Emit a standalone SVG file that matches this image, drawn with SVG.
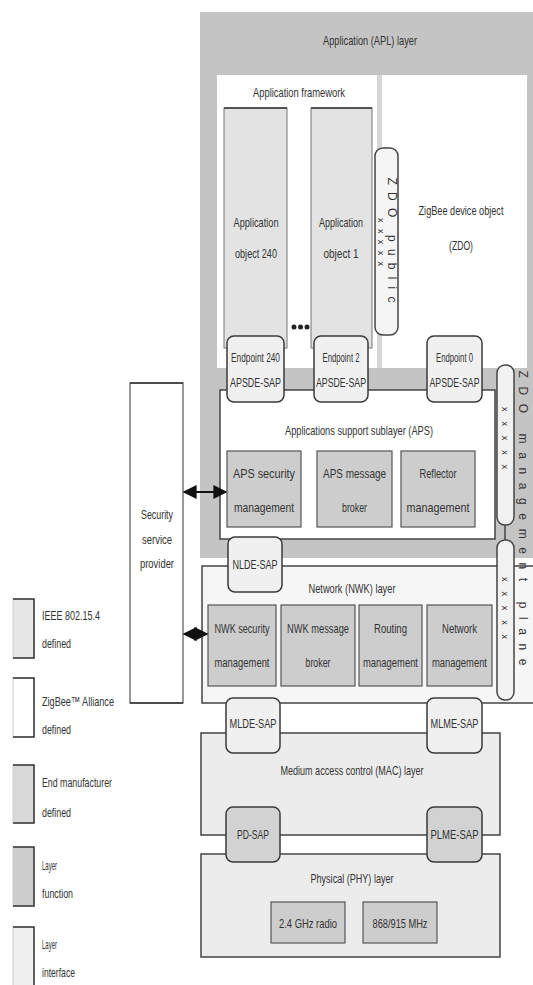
<svg xmlns="http://www.w3.org/2000/svg" width="533" height="985" viewBox="0 0 533 985">
<style>
.t{font-family:"Liberation Sans",Arial,sans-serif;font-size:13px;fill:#333;text-anchor:middle}
.s{font-size:12px}
.l{text-anchor:start}
.sap{fill:#f0f0f0;stroke:#3a3a3a;stroke-width:1.5}
.sapd{fill:#d2d2d2;stroke:#3a3a3a;stroke-width:1.5}
.fn{fill:#cdcdcd;stroke:#555;stroke-width:1.2}
.obj{fill:#e3e3e3;stroke:#777;stroke-width:1}
.ln{stroke:#333;stroke-width:1.5;fill:none}
</style>
<defs>
<marker id="ah" viewBox="0 0 10 10" refX="9" refY="5" markerWidth="7" markerHeight="7" orient="auto-start-reverse"><path d="M0,0 L10,5 L0,10 z" fill="#111"/></marker>
</defs>
<rect width="533" height="985" fill="#fff"/>

<g id="apl">
<rect x="200" y="12" width="333" height="546" fill="#c4c4c4"/>
<text class="t" x="370" y="45" textLength="94" lengthAdjust="spacingAndGlyphs">Application (APL) layer</text>
</g>
<g id="app-framework">
<rect x="217" y="75" width="160" height="293" fill="#fff"/>
<rect x="377" y="75" width="5" height="293" fill="#d6d6d6"/>
<text class="t" x="299" y="97" textLength="92" lengthAdjust="spacingAndGlyphs">Application framework</text>
</g>
<g id="zdo">
<rect x="382" y="75" width="145" height="293" fill="#fff"/>
<text class="t" style="font-size:12px" x="461" y="215" textLength="85" lengthAdjust="spacingAndGlyphs">ZigBee device object</text>
<text class="t" x="461" y="250" textLength="24" lengthAdjust="spacingAndGlyphs">(ZDO)</text>
</g>
<g id="app-object-240">
<rect class="obj" x="224" y="108" width="63" height="240"/>
<line class="ln" x1="224" y1="108" x2="287" y2="108"/>
<text class="t" x="256" y="227" textLength="45" lengthAdjust="spacingAndGlyphs">Application</text>
<text class="t" x="256" y="258" textLength="42" lengthAdjust="spacingAndGlyphs">object 240</text>
</g>
<g id="app-object-1">
<rect class="obj" x="311" y="108" width="61" height="240"/>
<line class="ln" x1="311" y1="108" x2="372" y2="108"/>
<text class="t" x="341" y="227" textLength="44" lengthAdjust="spacingAndGlyphs">Application</text>
<text class="t" x="341" y="258" textLength="35" lengthAdjust="spacingAndGlyphs">object 1</text>
</g>
<g id="dots" fill="#222">
<circle cx="294" cy="327" r="2.5"/><circle cx="300.5" cy="327" r="2.5"/><circle cx="307" cy="327" r="2.5"/>
</g>
<g id="zdo-public">
<rect x="375" y="148" width="23" height="187" rx="8" fill="#f5f5f5" stroke="#444" stroke-width="1.5"/>
<text class="t" style="font-size:12px" transform="translate(388,240) rotate(90)" textLength="125" lengthAdjust="spacing">ZDO public</text>
<text class="t" style="font-size:9px" transform="translate(378,242) rotate(90)" textLength="48" lengthAdjust="spacing">xxxxx</text>
</g>

<g id="aps">
<rect x="220" y="390" width="275" height="149" fill="#fff" stroke="#444" stroke-width="1.5"/>
<text class="t" x="359" y="435" textLength="148" lengthAdjust="spacingAndGlyphs">Applications support sublayer (APS)</text>
</g>
<g id="ep240">
<rect class="sap" x="227" y="336" width="57" height="66" rx="7"/>
<text class="t s" x="255.5" y="362" textLength="49" lengthAdjust="spacingAndGlyphs">Endpoint 240</text>
<text class="t s" x="255.5" y="387" textLength="51" lengthAdjust="spacingAndGlyphs">APSDE-SAP</text>
</g>
<g id="ep2">
<rect class="sap" x="314" y="336" width="54" height="66" rx="7"/>
<text class="t s" x="341" y="362" textLength="37" lengthAdjust="spacingAndGlyphs">Endpoint 2</text>
<text class="t s" x="341" y="387" textLength="50" lengthAdjust="spacingAndGlyphs">APSDE-SAP</text>
</g>
<g id="ep0">
<rect class="sap" x="427" y="336" width="55" height="66" rx="7"/>
<text class="t s" x="454.5" y="362" textLength="37" lengthAdjust="spacingAndGlyphs">Endpoint 0</text>
<text class="t s" x="454.5" y="387" textLength="50" lengthAdjust="spacingAndGlyphs">APSDE-SAP</text>
</g>
<g id="aps-security">
<rect class="fn" x="227" y="451" width="74" height="76"/>
<text class="t" x="264" y="478" textLength="62" lengthAdjust="spacingAndGlyphs">APS security</text>
<text class="t" x="264" y="512" textLength="60" lengthAdjust="spacingAndGlyphs">management</text>
</g>
<g id="aps-broker">
<rect class="fn" x="317" y="451" width="75" height="76"/>
<text class="t" x="354.5" y="478" textLength="63" lengthAdjust="spacingAndGlyphs">APS message</text>
<text class="t" x="354.5" y="512" textLength="25" lengthAdjust="spacingAndGlyphs">broker</text>
</g>
<g id="reflector">
<rect class="fn" x="401" y="451" width="74" height="76"/>
<text class="t" x="438" y="478" textLength="37" lengthAdjust="spacingAndGlyphs">Reflector</text>
<text class="t" x="438" y="512" textLength="63" lengthAdjust="spacingAndGlyphs">management</text>
</g>

<g id="nwk">
<rect x="202" y="566" width="340" height="137" fill="#f6f6f6" stroke="#444" stroke-width="1.5"/>
<text class="t" x="352" y="593" textLength="87" lengthAdjust="spacingAndGlyphs">Network (NWK) layer</text>
</g>
<g id="nlde-sap">
<rect class="sap" x="228" y="537" width="54" height="55" rx="7"/>
<text class="t" x="255" y="569" textLength="45" lengthAdjust="spacingAndGlyphs">NLDE-SAP</text>
</g>
<g id="nwk-security">
<rect class="fn" x="208" y="605" width="68" height="81"/>
<text class="t" x="242" y="633" textLength="55" lengthAdjust="spacingAndGlyphs">NWK security</text>
<text class="t" x="242" y="667" textLength="55" lengthAdjust="spacingAndGlyphs">management</text>
</g>
<g id="nwk-broker">
<rect class="fn" x="281" y="605" width="74" height="81"/>
<text class="t" x="318" y="633" textLength="62" lengthAdjust="spacingAndGlyphs">NWK message</text>
<text class="t" x="318" y="667" textLength="25" lengthAdjust="spacingAndGlyphs">broker</text>
</g>
<g id="routing">
<rect class="fn" x="359" y="605" width="63" height="81"/>
<text class="t" x="390.5" y="633" textLength="33" lengthAdjust="spacingAndGlyphs">Routing</text>
<text class="t" x="390.5" y="667" textLength="55" lengthAdjust="spacingAndGlyphs">management</text>
</g>
<g id="network-mgmt">
<rect class="fn" x="427" y="605" width="65" height="81"/>
<text class="t" x="459.5" y="633" textLength="35" lengthAdjust="spacingAndGlyphs">Network</text>
<text class="t" x="459.5" y="667" textLength="55" lengthAdjust="spacingAndGlyphs">management</text>
</g>

<g id="zdo-mgmt-plane">
<rect x="497" y="365" width="17" height="160" rx="8" fill="#f2f2f2" stroke="#444" stroke-width="1.5"/>
<rect x="497" y="540" width="17" height="160" rx="8" fill="#f2f2f2" stroke="#444" stroke-width="1.5"/>
<text class="t" style="font-size:9px" transform="translate(502,438) rotate(90)" textLength="62" lengthAdjust="spacing">xxxxx</text>
<text class="t" style="font-size:9px" transform="translate(502,608) rotate(90)" textLength="62" lengthAdjust="spacing">xxxxx</text>
<text class="t" style="font-size:12px" transform="translate(519,518) rotate(90)" textLength="295" lengthAdjust="spacing">ZDO management plane</text>
</g>

<g id="security-provider">
<rect x="130" y="383" width="53" height="320" fill="#fff" stroke="#555" stroke-width="1.2"/>
<line class="ln" x1="130" y1="383" x2="183" y2="383"/>
<line class="ln" x1="130" y1="703" x2="183" y2="703"/>
<text class="t" x="157" y="519" textLength="32" lengthAdjust="spacingAndGlyphs">Security</text>
<text class="t" x="157" y="544" textLength="30" lengthAdjust="spacingAndGlyphs">service</text>
<text class="t" x="157" y="568" textLength="34" lengthAdjust="spacingAndGlyphs">provider</text>
</g>

<g id="mac">
<rect x="201" y="733" width="299" height="102" fill="#ececec" stroke="#444" stroke-width="1.5"/>
<text class="t" x="352" y="775" textLength="143" lengthAdjust="spacingAndGlyphs">Medium access control (MAC) layer</text>
</g>
<g id="mlde-sap">
<rect class="sap" x="226" y="698" width="54" height="55" rx="7"/>
<text class="t" x="253" y="728" textLength="47" lengthAdjust="spacingAndGlyphs">MLDE-SAP</text>
</g>
<g id="mlme-sap">
<rect class="sap" x="427" y="698" width="55" height="55" rx="7"/>
<text class="t" x="454.5" y="728" textLength="48" lengthAdjust="spacingAndGlyphs">MLME-SAP</text>
</g>
<g id="phy">
<rect x="201" y="854" width="299" height="103" fill="#ececec" stroke="#444" stroke-width="1.5"/>
<text class="t" x="352" y="883" textLength="83" lengthAdjust="spacingAndGlyphs">Physical (PHY) layer</text>
</g>
<g id="pd-sap">
<rect class="sapd" x="226" y="807" width="54" height="55" rx="7"/>
<text class="t" x="253" y="839" textLength="32" lengthAdjust="spacingAndGlyphs">PD-SAP</text>
</g>
<g id="plme-sap">
<rect class="sapd" x="427" y="807" width="55" height="55" rx="7"/>
<text class="t" x="454.5" y="839" textLength="48" lengthAdjust="spacingAndGlyphs">PLME-SAP</text>
</g>
<g id="radio-24">
<rect class="fn" x="271" y="902" width="74" height="41"/>
<text class="t" x="308" y="928" textLength="58" lengthAdjust="spacingAndGlyphs">2.4 GHz radio</text>
</g>
<g id="radio-868">
<rect class="fn" x="363" y="902" width="74" height="41"/>
<text class="t" x="400" y="928" textLength="55" lengthAdjust="spacingAndGlyphs">868/915 MHz</text>
</g>

<g id="connectors">
<line x1="184" y1="492" x2="226" y2="492" stroke="#111" stroke-width="2" marker-start="url(#ah)" marker-end="url(#ah)"/>
<line x1="184" y1="634" x2="207" y2="634" stroke="#111" stroke-width="2" marker-start="url(#ah)" marker-end="url(#ah)"/>
<line x1="505" y1="525" x2="505" y2="540" stroke="#444" stroke-width="1.5"/>
</g>

<g id="legend-ieee">
<rect x="13" y="599" width="21" height="59" fill="#e6e6e6" stroke="#ccc" stroke-width="1"/>
<path class="ln" d="M13,599 H34 V658 H13"/>
<text class="t l" x="42" y="620" textLength="58" lengthAdjust="spacingAndGlyphs">IEEE 802.15.4</text>
<text class="t l" x="42" y="648" textLength="29" lengthAdjust="spacingAndGlyphs">defined</text>
</g>
<g id="legend-zigbee">
<rect x="13" y="678" width="21" height="59" fill="#fff" stroke="#ccc" stroke-width="1"/>
<path class="ln" d="M13,678 H34 V737 H13"/>
<text class="t l" x="42" y="706" textLength="72" lengthAdjust="spacingAndGlyphs">ZigBee™ Alliance</text>
<text class="t l" x="42" y="734" textLength="29" lengthAdjust="spacingAndGlyphs">defined</text>
</g>
<g id="legend-manufacturer">
<rect x="13" y="765" width="21" height="58" fill="#d9d9d9" stroke="#ccc" stroke-width="1"/>
<path class="ln" d="M13,765 H34 V823 H13"/>
<text class="t l" x="42" y="787" textLength="70" lengthAdjust="spacingAndGlyphs">End manufacturer</text>
<text class="t l" x="42" y="817" textLength="29" lengthAdjust="spacingAndGlyphs">defined</text>
</g>
<g id="legend-function">
<rect x="13" y="847" width="21" height="59" fill="#cdcdcd" stroke="#ccc" stroke-width="1"/>
<path class="ln" d="M13,847 H34 V906 H13"/>
<text class="t l" x="42" y="870" textLength="15" lengthAdjust="spacingAndGlyphs">Layer</text>
<text class="t l" x="42" y="898" textLength="31" lengthAdjust="spacingAndGlyphs">function</text>
</g>
<g id="legend-interface">
<rect x="13" y="927" width="21" height="62" fill="#efefef" stroke="#ccc" stroke-width="1"/>
<path class="ln" d="M13,927 H34 V990"/>
<text class="t l" x="42" y="949" textLength="15" lengthAdjust="spacingAndGlyphs">Layer</text>
<text class="t l" x="42" y="977" textLength="33" lengthAdjust="spacingAndGlyphs">interface</text>
</g>
</svg>
